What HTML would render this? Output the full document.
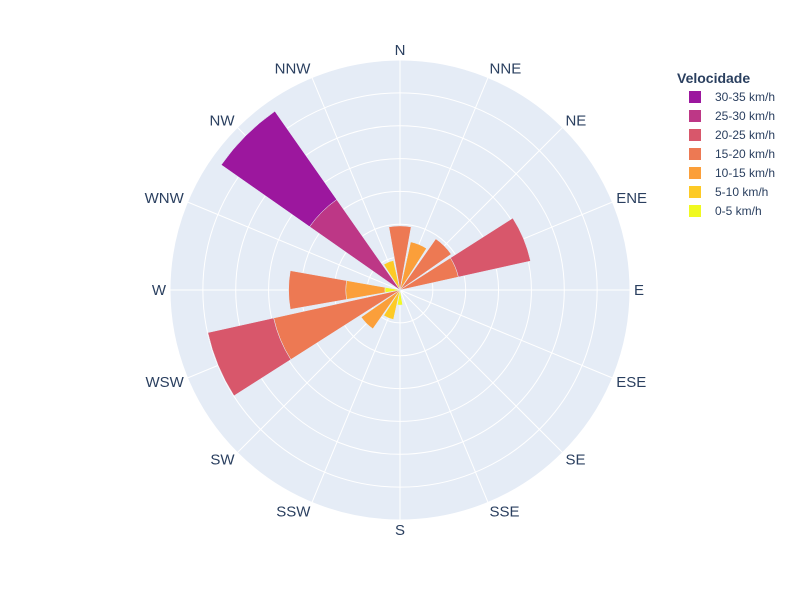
<!DOCTYPE html>
<html><head><meta charset="utf-8"><style>
body{margin:0;background:#fff;}
svg{display:block;font-family:"Liberation Sans",sans-serif;}
</style></head><body>
<svg id="chart" width="800" height="600">
<circle cx="400" cy="290" r="230" fill="#e5ecf6"/>
<g id="grid"></g><g id="bars"></g><g id="labels"></g><g id="legend"></g>
</svg>
<script>
const directions = ["N","NNE","NE","ENE","E","ESE","SE","SSE","S","SSW","SW","WSW","W","WNW","NW","NNW"];
const speedBins = ["0-5 km/h","5-10 km/h","10-15 km/h","15-20 km/h","20-25 km/h","25-30 km/h","30-35 km/h"];
const s0_5   = [0,0,0,0,0,0,0,0,0.46,0,0,0,0.46,0,0,0];
const s5_10  = [0,0,0,0,0,0,0,0,0,0.92,0,0,0,0,0,0.92];
const s10_15 = [0,1.5,0,0,0,0,0,0,0,0,1.44,0,1.19,0,0,0];
const s15_20 = [1.95,0,1.9,1.82,0,0,0,0,0,0,0,3.94,1.74,0,0,0];
const s20_25 = [0,0,0,2.25,0,0,0,0,0,0,0,2.05,0,0,0,0];
const s25_30 = [0,0,0,0,0,0,0,0,0,0,0,0,0,0,3.36,0];
const s30_35 = [0,0,0,0,0,0,0,0,0,0,0,0,0,0,3.28,0];
const series = [s0_5,s5_10,s10_15,s15_20,s20_25,s25_30,s30_35];
const colors = ["#f0f921","#fdca26","#fb9f3a","#ed7953","#d8576b","#bd3786","#9c179e"];
const rMax = 7, R = 230, cx = 400, cy = 290;
const NS = "http://www.w3.org/2000/svg";
function rScale(v){ return v / rMax * R; }
function pt(r, deg){ const a = deg*Math.PI/180; return [cx + r*Math.sin(a), cy - r*Math.cos(a)]; }
const grid = document.getElementById('grid');
for (let i=1;i<=7;i++){
  const c = document.createElementNS(NS,'circle');
  c.setAttribute('cx',cx); c.setAttribute('cy',cy); c.setAttribute('r',rScale(i));
  c.setAttribute('fill','none'); c.setAttribute('stroke','#fff'); c.setAttribute('stroke-width','1');
  
  
  grid.appendChild(c);
}
directions.forEach((d,i)=>{
  const deg = i*22.5;
  const [x,y] = pt(R, deg);
  const l = document.createElementNS(NS,'line');
  l.setAttribute('x1',cx); l.setAttribute('y1',cy); l.setAttribute('x2',x); l.setAttribute('y2',y);
  l.setAttribute('stroke','#fff'); l.setAttribute('stroke-width','1');
  
  
  grid.appendChild(l);
  const [tx,ty] = pt(234, deg);
  const s = Math.sin(deg*Math.PI/180), co = Math.cos(deg*Math.PI/180);
  const t = document.createElementNS(NS,'text');
  t.setAttribute('x',tx); t.setAttribute('y',ty + 5 - 6*co);
  t.setAttribute('text-anchor', s>0.01?'start':(s<-0.01?'end':'middle'));
  t.setAttribute('font-size','15'); t.setAttribute('fill','#2a3f5f');
  t.textContent = d;
  
  
  document.getElementById('labels').appendChild(t);
});
const bars = document.getElementById('bars');
const half = 10;
directions.forEach((d,i)=>{
  let base = 0;
  series.forEach((s,k)=>{
    const v = s[i];
    if (v<=0) return;
    const r0 = rScale(base), r1 = rScale(base+v);
    const a0 = i*22.5-half, a1 = i*22.5+half;
    const p1 = pt(r0,a0), p2 = pt(r1,a0), p3 = pt(r1,a1), p4 = pt(r0,a1);
    const path = `M${p1[0]},${p1[1]} L${p2[0]},${p2[1]} A${r1},${r1} 0 0 1 ${p3[0]},${p3[1]} L${p4[0]},${p4[1]}` + (r0>0?` A${r0},${r0} 0 0 0 ${p1[0]},${p1[1]}`:'') + 'Z';
    const el = document.createElementNS(NS,'path');
    el.setAttribute('d',path); el.setAttribute('fill',colors[k]);
    el.setAttribute('stroke','#e5ecf6'); el.setAttribute('stroke-width','0.5');
    
    
    bars.appendChild(el);
    base += v;
  });
});
const lg = document.getElementById('legend');
const title = document.createElementNS(NS,'text');
title.setAttribute('x',677); title.setAttribute('y',83); title.setAttribute('font-size','14');
title.setAttribute('fill','#2a3f5f'); title.setAttribute('font-weight','bold');
title.textContent = 'Velocidade';


lg.appendChild(title);
for (let j=0;j<7;j++){
  const k = 6-j, y = 97 + j*19;
  const g = document.createElementNS(NS,'g');
  
  
  const r = document.createElementNS(NS,'rect');
  r.setAttribute('x',689); r.setAttribute('y',y-6); r.setAttribute('width',12); r.setAttribute('height',12);
  r.setAttribute('fill',colors[k]);
  
  
  const t = document.createElementNS(NS,'text');
  t.setAttribute('x',715); t.setAttribute('y',y+4); t.setAttribute('font-size','12'); t.setAttribute('fill','#2a3f5f');
  t.textContent = speedBins[k];
  
  
  g.appendChild(r); g.appendChild(t); lg.appendChild(g);
}
</script>
</body></html>
